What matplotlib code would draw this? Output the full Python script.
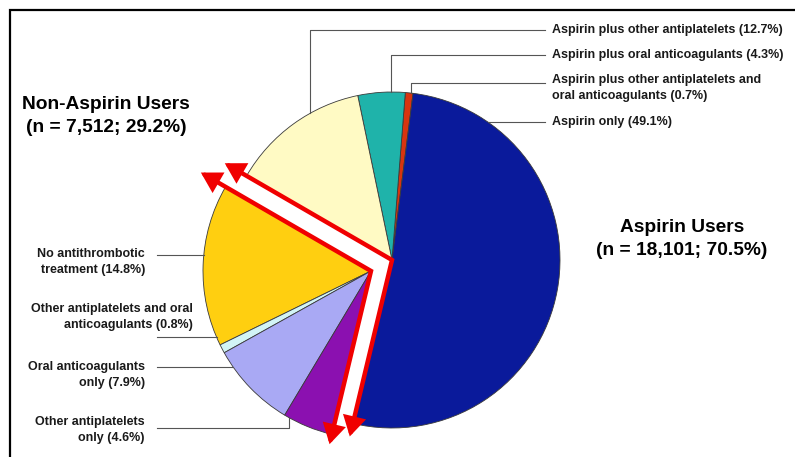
import numpy as np
import matplotlib.pyplot as plt
from matplotlib.patches import FancyArrowPatch, ArrowStyle
from matplotlib.path import Path

plt.rcParams["font.family"] = ["Liberation Sans", "DejaVu Sans"]

# Slices, counter-clockwise starting at the top edge of the blue wedge
slice_labels = [
    "Aspirin plus other antiplatelets and\noral anticoagulants (0.7%)",
    "Aspirin plus oral anticoagulants (4.3%)",
    "Aspirin plus other antiplatelets (12.7%)",
    "No antithrombotic\ntreatment (14.8%)",
    "Other antiplatelets and oral\nanticoagulants (0.8%)",
    "Oral anticoagulants\nonly (7.9%)",
    "Other antiplatelets\nonly (4.6%)",
    "Aspirin only (49.1%)",
]
shares = [0.7, 4.3, 12.7, 14.8, 0.8, 7.9, 4.6, 49.1]
is_aspirin = [True, True, True, False, False, False, False, True]
slice_colors = ["#D8340F", "#1FB3AA", "#FFFAC4", "#FFCF10",
                "#D2F4F6", "#A9A9F4", "#8B10B0", "#0A1A9B"]

group_titles = ["Non-Aspirin Users\n(n = 7,512; 29.2%)",
                "Aspirin Users\n(n = 18,101; 70.5%)"]

W, H = 795, 457
cx, cy = 392, H - 260     # centre of the aspirin group
R = 168
shift = (-21, -11)        # non-aspirin group pulled out
start = 82.8


def on_arc_x(c, x, top=True):
    dy = np.sqrt(R**2 - (x - c[0])**2)
    return (x, c[1] + dy if top else c[1] - dy)


def on_arc_y(c, y, right=True):
    dx = np.sqrt(R**2 - (y - c[1])**2)
    return (c[0] + dx if right else c[0] - dx, y)


def ray(c, ang, length):
    a = np.radians(ang)
    return (c[0] + length * np.cos(a), c[1] + length * np.sin(a))


fig = plt.figure(figsize=(W / 100, H / 100), dpi=100)
ax = fig.add_axes([0, 0, 1, 1])

wedges, _ = ax.pie(shares, colors=slice_colors, startangle=start, radius=R,
                   center=(cx, cy),
                   wedgeprops=dict(edgecolor="#3a3a3a", linewidth=0.6))
c1 = (cx, cy)
c2 = (cx + shift[0], cy + shift[1])
for w, asp in zip(wedges, is_aspirin):
    if not asp:
        w.set_center(c2)

ax.set_xlim(0, W)
ax.set_ylim(0, H)
ax.set_aspect("auto")
ax.axis("off")

# frame lines (left and top)
ax.plot([10, 10, W], [0, H - 10, H - 10], color="black", lw=1.6,
        solid_joinstyle="miter", clip_on=False)

# red double arrows along the group boundary
t_top = wedges[3].theta1
t_bot = wedges[6].theta2
style = ArrowStyle("<|-|>", head_length=0.55, head_width=0.32)
for c, ltop, lbot in [(c1, 1.15, 1.08), (c2, 1.17, 1.06)]:
    verts = [ray(c, t_top, ltop * R), c, ray(c, t_bot, lbot * R)]
    path = Path(verts, [Path.MOVETO, Path.LINETO, Path.LINETO])
    arr = FancyArrowPatch(path=path, arrowstyle=style, mutation_scale=18,
                          color="#F00000", lw=3.2, joinstyle="miter")
    ax.add_patch(arr)

lead = dict(color="#555555", lw=0.8)
txt = dict(fontsize=9, fontweight="bold", color="#1a1a1a", va="center",
           linespacing=1.35)

# right-hand labels: (slice, text y, leader y, elbow x)
right = [(2, 30, 30, 310), (1, 55, 55, 391), (0, 88, 83, 411), (7, 122, 122, None)]
for i, ty, ly, ex in right:
    ly = H - ly
    if ex is None:
        p = on_arc_y(c1, ly, right=True)
        ax.plot([p[0], 545], [ly, ly], **lead)
    else:
        p = on_arc_x(c1, ex, top=True)
        ax.plot([ex, ex, 545], [p[1], ly, ly], **lead)
    ax.text(552, H - ty, slice_labels[i], ha="left", multialignment="left", **txt)

# left-hand labels: (slice, text right x, text y, leader y, elbow x)
left = [(3, 145, 262, 255, None), (4, 193, 317, 337, None),
        (5, 145, 375, 367, None), (6, 145, 430, 428, 289)]
for i, tx, ty, ly, ex in left:
    ly = H - ly
    if ex is None:
        p = on_arc_y(c2, ly, right=False)
        ax.plot([157, p[0]], [ly, ly], **lead)
    else:
        p = on_arc_x(c2, ex, top=False)
        ax.plot([157, ex, ex], [ly, ly, p[1]], **lead)
    ax.text(tx, H - ty, slice_labels[i], ha="right", multialignment="right", **txt)

big = dict(fontsize=13.8, fontweight="bold", color="black", ha="center",
           va="center", multialignment="center", linespacing=1.45)
ax.text(106, H - 116, group_titles[0], **big)
ax.text(682, H - 239, group_titles[1], **big)

fig.savefig("out.png", dpi=100)
